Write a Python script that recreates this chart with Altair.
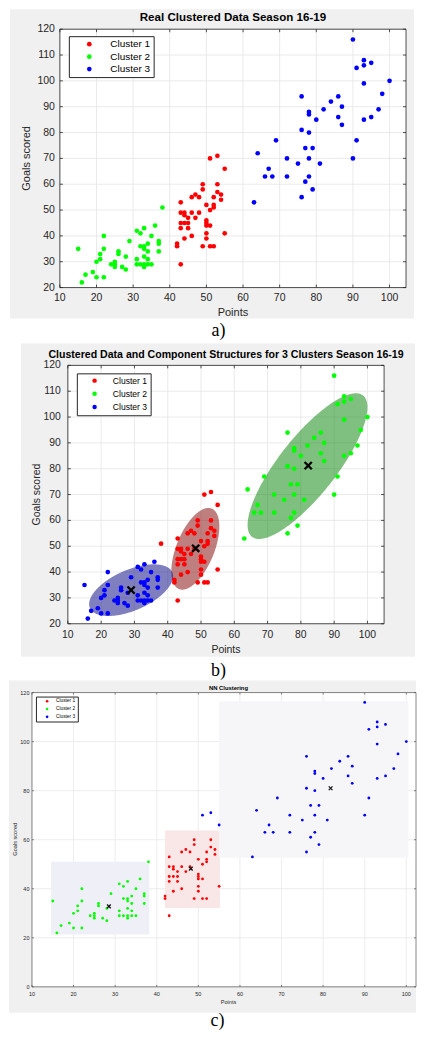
import altair as alt
import numpy as np
import pandas as pd

# ---------------- data ----------------
low_points = [15, 16, 17, 19, 20, 20, 21, 21, 22, 22, 22, 24, 25, 25, 25, 26, 26, 27, 28, 28, 29,
              31, 32, 31, 31, 32, 33, 34, 35, 32, 33, 33, 33, 33, 33, 34, 34, 34, 35, 36, 37, 37, 37, 38]
low_goals = [35, 22, 25, 26, 30, 24, 33, 31, 40, 35, 24, 29, 30, 29, 28, 34, 33, 28, 32, 27, 38,
             42, 41, 31, 29, 29, 29, 29, 29, 36, 43, 36, 35, 32, 28, 37, 34, 31, 40, 44, 38, 37, 34, 51]
mid_points = [43, 43, 44, 44, 43, 44, 45, 43, 45, 45, 42, 42, 43, 44, 46, 46, 46, 47, 47, 48, 48,
              49, 49, 49, 50, 50, 50, 50, 50, 50, 51, 51, 51, 52, 52, 52, 52, 53, 53, 54, 54, 55]
mid_goals = [53, 49, 49, 48, 45, 45, 45, 43, 43, 47, 37, 36, 29, 39, 49, 40, 55, 56, 47, 55, 49,
             60, 58, 36, 52, 46, 45, 44, 41, 39, 50, 44, 36, 36, 55, 52, 51, 60, 57, 56, 54, 41]
edge_points = [51, 53, 55]
edge_goals = [70, 71, 66]
high_points = [64, 67, 66, 68, 63, 72, 72, 75, 78, 78, 77, 81, 76, 79, 90, 90, 91, 93, 93, 95, 93,
               100, 76, 86, 84, 82, 78, 78, 87, 80, 86, 87, 76, 78, 69, 91, 93, 95, 97, 98, 77, 79]
high_goals = [72, 66, 63, 63, 53, 70, 63, 68, 70, 63, 61, 68, 55, 58, 70, 116, 105, 108, 106, 107, 99,
              100, 94, 94, 92, 89, 88, 87, 90, 85, 86, 83, 81, 80, 77, 77, 85, 86, 89, 95, 74, 74]

# cluster label of each group in each panel
labels_a = {"low": ["Cluster 2"] * 44, "mid": ["Cluster 1"] * 42, "edge": ["Cluster 1"] * 3, "high": ["Cluster 3"] * 42}
labels_b = {"low": ["Cluster 3"] * 43 + ["Cluster 1"], "mid": ["Cluster 1"] * 42, "edge": ["Cluster 1"] * 3, "high": ["Cluster 2"] * 42}
labels_c = {"low": ["Cluster 2"] * 44, "mid": ["Cluster 1"] * 42, "edge": ["Cluster 3"] * 3, "high": ["Cluster 3"] * 42}

clusters = ["Cluster 1", "Cluster 2", "Cluster 3"]
cluster_colors = ["#ff0000", "#00ff00", "#0000ff"]

panel_titles = ["Real Clustered Data Season 16-19",
                "Clustered Data and Component Structures for 3 Clusters Season 16-19",
                "NN Clustering"]
panel_tags = ["a)", "b)", "c)"]
x_title = "Points"
y_title = "Goals scored"

xticks = [10, 20, 30, 40, 50, 60, 70, 80, 90, 100]
yticks_ab = [20, 30, 40, 50, 60, 70, 80, 90, 100, 110, 120]
yticks_c = [0, 20, 40, 60, 80, 100, 120]

# component structures (panel b): centre and spread of each ellipse
ell_cluster = ["Cluster 1", "Cluster 2", "Cluster 3"]
ell_cx = [48.3, 82.0, 29.0]
ell_cy = [49.0, 81.0, 33.0]
ell_sxx = [52.0, 324.0, 159.0]
ell_syy = [250.0, 795.0, 100.0]
ell_sxy = [62.0, 410.0, 68.0]
ell_fill = ["#800000", "#008000", "#000080"]

cent_b_x = [48.4, 82.2, 29.0]
cent_b_y = [49.2, 81.2, 33.0]
cent_c_x = [48.2, 81.8, 28.5]
cent_c_y = [48.2, 81.0, 32.8]

# NN decision regions (panel c)
reg_x1 = [42.0, 14.6, 55.0]
reg_x2 = [55.2, 38.2, 100.5]
reg_y1 = [32.2, 21.3, 52.6]
reg_y2 = [63.8, 51.0, 116.5]
reg_fill = ["#f9e7e7", "#efeff7", "#f6f6f9"]

# ---------------- helpers ----------------
FONT = "Liberation Sans"
AX = "#262626"
GREY = "#f0f0f0"
TOTAL_W = 409


def points_df(labels):
    return pd.DataFrame({
        "x": low_points + mid_points + edge_points + high_points,
        "y": low_goals + mid_goals + edge_goals + high_goals,
        "cluster": labels["low"] + labels["mid"] + labels["edge"] + labels["high"],
    })


def one():
    return pd.DataFrame({"k": [0]})


def text_layer(txt, x, y, size, bold=False, angle=0, font=FONT, color="black"):
    return alt.Chart(pd.DataFrame({"t": [txt]})).mark_text(
        font=font, fontSize=size, fontWeight="bold" if bold else "normal", color=color,
        align="center", baseline="middle", angle=angle
    ).encode(text="t:N", x=alt.value(x), y=alt.value(y))


def panel(cfg, labels, extra_under=None, extra_over=None):
    W, H, X = cfg["W"], cfg["H"], cfg["X"]
    xs = alt.Scale(domain=cfg["xdom"], nice=False, zero=False)
    ys = alt.Scale(domain=cfg["ydom"], nice=False, zero=False)
    yt = cfg["yticks"]
    L = cfg["tick"]
    layers = []
    # slot (defines the panel extent), grey figure background, white axes area
    layers.append(alt.Chart(one()).mark_rect(opacity=0).encode(
        x=alt.value(-(X - 1)), x2=alt.value(TOTAL_W - X),
        y=alt.value(cfg["slot"][0]), y2=alt.value(cfg["slot"][1])))
    gx1, gy1, gx2, gy2 = cfg["grey"]
    layers.append(alt.Chart(one()).mark_rect(color=GREY).encode(
        x=alt.value(gx1), x2=alt.value(gx2), y=alt.value(gy1), y2=alt.value(gy2)))
    layers.append(alt.Chart(one()).mark_rect(color="white").encode(
        x=alt.value(0), x2=alt.value(W), y=alt.value(0), y2=alt.value(H)))
    # grid
    dx = pd.DataFrame({"x": xticks})
    dy = pd.DataFrame({"y": yt})
    layers.append(alt.Chart(dx).mark_rule(color=cfg["grid"], strokeWidth=0.8).encode(
        x=alt.X("x:Q", scale=xs, axis=None)))
    layers.append(alt.Chart(dy).mark_rule(color=cfg["grid"], strokeWidth=0.8).encode(
        y=alt.Y("y:Q", scale=ys, axis=None)))
    if extra_under is not None:
        layers += extra_under(xs, ys)
    # data points
    lg = cfg["legend"]
    legend = alt.Legend(orient="none", legendX=lg["x"], legendY=lg["y"], title=None,
                        strokeColor=AX, fillColor="white", padding=lg["pad"],
                        labelFont=FONT, labelFontSize=lg["fs"], labelColor="black",
                        symbolType="circle", symbolSize=lg["ss"], symbolStrokeWidth=0,
                        symbolOffset=lg["so"], labelOffset=lg["lo"], rowPadding=lg["rp"],
                        cornerRadius=0)
    layers.append(alt.Chart(points_df(labels)).mark_circle(size=cfg["ps"], opacity=1).encode(
        x=alt.X("x:Q", scale=xs, axis=None),
        y=alt.Y("y:Q", scale=ys, axis=None),
        color=alt.Color("cluster:N", scale=alt.Scale(domain=clusters, range=cluster_colors),
                        legend=legend)))
    if extra_over is not None:
        layers += extra_over(xs, ys)
    # inward ticks and axes box
    lw = cfg["box_w"]
    bc = cfg["box_c"]
    layers.append(alt.Chart(dx).mark_rule(color=bc, strokeWidth=lw).encode(
        x=alt.X("x:Q", scale=xs, axis=None), y=alt.value(H), y2=alt.value(H - L)))
    layers.append(alt.Chart(dx).mark_rule(color=bc, strokeWidth=lw).encode(
        x=alt.X("x:Q", scale=xs, axis=None), y=alt.value(0), y2=alt.value(L)))
    layers.append(alt.Chart(dy).mark_rule(color=bc, strokeWidth=lw).encode(
        y=alt.Y("y:Q", scale=ys, axis=None), x=alt.value(0), x2=alt.value(L)))
    layers.append(alt.Chart(dy).mark_rule(color=bc, strokeWidth=lw).encode(
        y=alt.Y("y:Q", scale=ys, axis=None), x=alt.value(W), x2=alt.value(W - L)))
    layers.append(alt.Chart(one()).mark_rect(fillOpacity=0, stroke=bc, strokeWidth=lw).encode(
        x=alt.value(0), x2=alt.value(W), y=alt.value(0), y2=alt.value(H)))
    # tick labels (through the scales)
    fs = cfg["lfs"]
    layers.append(alt.Chart(dx).mark_text(font=FONT, fontSize=fs, color=AX, align="center",
                                          baseline="middle").encode(
        x=alt.X("x:Q", scale=xs, axis=None), y=alt.value(H + cfg["xlab"]),
        text=alt.Text("x:Q", format="d")))
    layers.append(alt.Chart(dy).mark_text(font=FONT, fontSize=fs, color=AX, align="right",
                                          baseline="middle").encode(
        y=alt.Y("y:Q", scale=ys, axis=None), x=alt.value(-cfg["ylab"]),
        text=alt.Text("y:Q", format="d")))
    # texts
    t = cfg["texts"]
    layers.append(text_layer(cfg["title"], t["title"][0], t["title"][1], t["title"][2], bold=True))
    layers.append(text_layer(x_title, t["xt"][0], t["xt"][1], t["xt"][2], color=AX))
    layers.append(text_layer(y_title, t["yt"][0], t["yt"][1], t["yt"][2], angle=270, color=AX))
    layers.append(text_layer(cfg["tag"], t["tag"][0], t["tag"][1], t["tag"][2], font="Liberation Serif"))
    ch = alt.layer(*layers).properties(width=W, height=H)
    spacer = alt.Chart(one()).mark_rect(opacity=0).encode(
        x=alt.value(0), x2=alt.value(1), y=alt.value(0), y2=alt.value(1)).properties(width=1, height=1)
    return alt.hconcat(spacer, ch, spacing=0)


# ---------------- panel b extras ----------------
def ellipses(xs, ys):
    out = []
    for k in range(len(ell_cluster)):
        a = np.sqrt(ell_sxx[k])
        t = np.linspace(np.pi, 0.0, 181)
        xv = ell_cx[k] + a * np.cos(t)
        d = xv - ell_cx[k]
        base = ell_cy[k] + ell_sxy[k] / ell_sxx[k] * d
        half = np.sqrt(np.clip((ell_syy[k] - ell_sxy[k] ** 2 / ell_sxx[k]) * (1 - d ** 2 / ell_sxx[k]), 0, None))
        df = pd.DataFrame({"x": [float(v) for v in xv],
                           "ylo": [float(v) for v in base - half],
                           "yhi": [float(v) for v in base + half]})
        out.append(alt.Chart(df).mark_area(color=ell_fill[k], opacity=0.5, orient="vertical").encode(
            x=alt.X("x:Q", scale=xs, axis=None),
            y=alt.Y("ylo:Q", scale=ys, axis=None, stack=None),
            y2=alt.Y2("yhi:Q")))
    return out


XPATH = "M-1,-1L1,1M-1,1L1,-1"


def centroids_b(xs, ys):
    df = pd.DataFrame({"x": cent_b_x, "y": cent_b_y})
    return [alt.Chart(df).mark_point(shape=XPATH, size=52, strokeWidth=2.3, color="black", filled=False, opacity=1).encode(
        x=alt.X("x:Q", scale=xs, axis=None), y=alt.Y("y:Q", scale=ys, axis=None))]


def regions_c(xs, ys):
    df = pd.DataFrame({"x1": reg_x1, "x2": reg_x2, "y1": reg_y1, "y2": reg_y2, "fc": reg_fill})
    return [alt.Chart(df).mark_rect().encode(
        x=alt.X("x1:Q", scale=xs, axis=None), x2="x2:Q",
        y=alt.Y("y1:Q", scale=ys, axis=None), y2="y2:Q",
        fill=alt.Fill("fc:N", scale=None))]


def centroids_c(xs, ys):
    df = pd.DataFrame({"x": cent_c_x, "y": cent_c_y})
    return [alt.Chart(df).mark_point(shape=XPATH, size=14, strokeWidth=1.3, color="#111111", filled=False, opacity=1).encode(
        x=alt.X("x:Q", scale=xs, axis=None), y=alt.Y("y:Q", scale=ys, axis=None))]


# ---------------- panel layout (pixel geometry only) ----------------
cfg_a = dict(W=347, H=259, X=52, xdom=[10, 104.5], ydom=[20, 120], yticks=yticks_ab, tick=3,
             slot=(-20, 315), grey=(-50, -20, 355, 290), grid="#e4e4e4", lfs=10.5, xlab=10, ylab=5,
             ps=22, box_w=0.8, box_c=AX, title=panel_titles[0], tag=panel_tags[0],
             legend=dict(x=61, y=7, pad=3, fs=10, ss=22, so=12.5, lo=16, rp=2.5),
             texts=dict(title=(173.5, -11, 11.6), xt=(173.5, 284, 11), yt=(-32.5, 129.5, 11),
                        tag=(159, 303, 18)))
cfg_b = dict(W=317, H=259, X=60, xdom=[10, 105], ydom=[20, 120], yticks=yticks_ab, tick=3,
             slot=(-22, 316), grey=(-47, -22, 348, 292), grid="#e4e4e4", lfs=10.4, xlab=11, ylab=7,
             ps=22, box_w=0.8, box_c=AX, title=panel_titles[1], tag=panel_tags[1],
             legend=dict(x=69, y=8, pad=3, fs=8.6, ss=20, so=10.5, lo=14, rp=4.2),
             texts=dict(title=(158.5, -10, 10.6), xt=(158.5, 285, 10.5), yt=(-30.5, 129.5, 10.5),
                        tag=(151, 306, 18)))
cfg_c = dict(W=385, H=295, X=24, xdom=[10, 102.33], ydom=[0, 120], yticks=yticks_c, tick=2,
             slot=(-12, 339), grey=(-23, -12, 385, 321), grid="#e8e8e8", lfs=5.5, xlab=7, ylab=2.5,
             ps=8, box_w=0.7, box_c="#555555", title=panel_titles[2], tag=panel_tags[2],
             legend=dict(x=28, y=4, pad=2.3, fs=4.8, ss=7, so=6.5, lo=6.5, rp=1.8),
             texts=dict(title=(197, -5, 5.9), xt=(197, 310, 5.6), yt=(-17, 147, 5.6),
                        tag=(186, 329, 18)))

row_a = panel(cfg_a, labels_a)
row_b = panel(cfg_b, labels_b, extra_under=ellipses, extra_over=centroids_b)
row_c = panel(cfg_c, labels_c, extra_under=regions_c, extra_over=centroids_c)

chart = alt.vconcat(row_a, row_b, row_c, spacing=0,
                    padding={"left": 0, "top": 0, "right": 0, "bottom": 0}).resolve_scale(
    color="independent").resolve_legend(color="independent").configure_view(strokeWidth=0)

chart.save("out.html", embed_options={"renderer": "svg", "actions": False})
